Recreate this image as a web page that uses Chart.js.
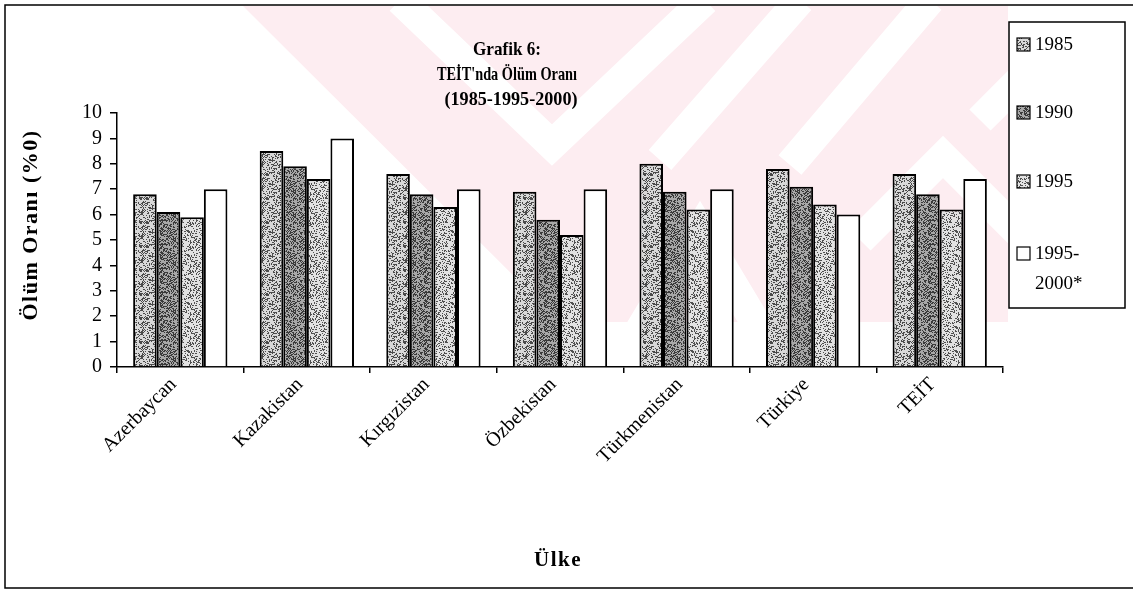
<!DOCTYPE html>
<html>
<head>
<meta charset="utf-8">
<script src="https://cdn.jsdelivr.net/npm/chart.js@4.4.1/dist/chart.umd.min.js"></script>
<style>
  html, body { margin: 0; padding: 0; background: #fff; }
  canvas { display: block; }
</style>
</head>
<body>
<canvas id="chartOlum" width="1133" height="593"></canvas>
<script>
const categories = [
  "Azerbaycan",
  "Kazakistan",
  "Kırgızistan",
  "Özbekistan",
  "Türkmenistan",
  "Türkiye",
  "TEİT",
];
const seriesNames = ["1985", "1990", "1995", "1995-2000*"];
const values1985 = [6.8, 8.5, 7.6, 6.9, 8.0, 7.8, 7.6];
const values1990 = [6.1, 7.9, 6.8, 5.8, 6.9, 7.1, 6.8];
const values1995 = [5.9, 7.4, 6.3, 5.2, 6.2, 6.4, 6.2];
const values1995to2000 = [7.0, 9.0, 7.0, 7.0, 7.0, 6.0, 7.4];
const yTickValues = [0, 1, 2, 3, 4, 5, 6, 7, 8, 9, 10];

const serif = "'Liberation Serif', 'Times New Roman', serif";

// stippled fills like the scanned print (fixed sequence, not data)
function stipple(light, dark, density, seed) {
  const c = document.createElement("canvas");
  c.width = 24;
  c.height = 24;
  const g = c.getContext("2d");
  g.fillStyle = light;
  g.fillRect(0, 0, 24, 24);
  g.fillStyle = dark;
  let s = seed;
  for (let y = 0; y < 24; y++) {
    for (let x = 0; x < 24; x++) {
      s = (s * 1103515245 + 12345) & 0x7fffffff;
      if ((s % 1000) / 1000 < density) g.fillRect(x, y, 1, 1);
    }
  }
  return g.createPattern(c, "repeat");
}

const ctx = document.getElementById("chartOlum").getContext("2d");
const fills = [
  stipple("#d8d8d8", "#4a4a4a", 0.35, 11),
  stipple("#a8a8a8", "#3a3a3a", 0.42, 29),
  stipple("#e2e2e2", "#505050", 0.3, 47),
  "#ffffff",
];
const seriesValues = [values1985, values1990, values1995, values1995to2000];

const backdrop = {
  id: "backdrop",
  beforeDraw(chart) {
    const c = chart.ctx;
    c.save();
    c.fillStyle = "#fff";
    c.fillRect(0, 0, chart.width, chart.height);
    // faint watermark
    c.beginPath();
    c.moveTo(243, 6);
    c.lineTo(1008, 6);
    c.lineTo(1008, 322);
    c.lineTo(560, 322);
    c.closePath();
    c.clip();
    c.fillStyle = "#fdedf1";
    c.fillRect(0, 0, chart.width, chart.height);
    c.strokeStyle = "#fff";
    c.lineWidth = 30;
    c.lineJoin = "miter";
    c.beginPath();
    c.moveTo(400, 0);
    c.lineTo(552, 145);
    c.lineTo(705, 0);
    c.moveTo(800, 0);
    c.lineTo(660, 160);
    c.moveTo(930, 0);
    c.lineTo(790, 165);
    c.moveTo(1040, 60);
    c.lineTo(980, 120);
    c.moveTo(860, 240);
    c.lineTo(943, 157);
    c.lineTo(1026, 240);
    c.moveTo(640, 330);
    c.lineTo(700, 230);
    c.lineTo(760, 330);
    c.stroke();
    c.restore();

    // outer frame
    c.save();
    c.strokeStyle = "#000";
    c.lineWidth = 1.5;
    c.beginPath();
    c.moveTo(1133, 5);
    c.lineTo(5, 5);
    c.lineTo(5, 588);
    c.lineTo(1133, 588);
    c.stroke();
    c.restore();
  },
};

const labelsAndLegend = {
  id: "labelsAndLegend",
  afterDraw(chart) {
    const c = chart.ctx;
    c.save();
    c.fillStyle = "#000";
    c.textAlign = "center";
    c.textBaseline = "middle";

    c.font = "bold 19px " + serif;
    c.fillText("Grafik 6:", 507, 50, 68);
    c.fillText("TEİT'nda Ölüm Oranı", 507, 75, 140);
    c.fillText("(1985-1995-2000)", 511, 100, 133);

    c.font = "bold 21px " + serif;
    c.letterSpacing = "1.5px";
    c.fillText("Ülke", 558, 561);

    c.translate(31, 225);
    c.rotate(-Math.PI / 2);
    c.font = "bold 22px " + serif;
    c.letterSpacing = "1.5px";
    c.fillText("Ölüm Oranı (%0)", 0, 0);
    c.restore();

    // legend box
    c.save();
    c.strokeStyle = "#000";
    c.lineWidth = 1.5;
    c.strokeRect(1009, 22, 116, 286);
    c.font = "19px " + serif;
    c.textAlign = "left";
    c.textBaseline = "middle";
    const rows = [45, 113, 182, 254];
    chart.data.datasets.forEach((ds, i) => {
      const y = rows[i];
      c.fillStyle = ds.backgroundColor;
      c.fillRect(1017, y - 7, 13, 13);
      c.strokeStyle = "#000";
      c.lineWidth = 1.2;
      c.strokeRect(1017, y - 7, 13, 13);
      c.fillStyle = "#000";
      if (i === 3) {
        c.fillText("1995-", 1035, y);
        c.fillText("2000*", 1035, y + 30);
      } else {
        c.fillText(ds.label, 1035, y);
      }
    });
    c.restore();
  },
};

const configOlum = {
  type: "bar",
  data: {
    labels: categories,
    datasets: seriesNames.map((name, i) => ({
      label: name,
      data: seriesValues[i],
      backgroundColor: fills[i],
      borderColor: "#000",
      borderWidth: 2,
      categoryPercentage: 0.745,
      barPercentage: 1.0,
    })),
  },
  options: {
    responsive: false,
    animation: false,
    devicePixelRatio: 1,
    layout: { padding: { top: 113, right: 130, left: 0, bottom: 0 } },
    plugins: {
      legend: { display: false },
      title: { display: false },
      tooltip: { enabled: false },
    },
    scales: {
      x: {
        afterFit(scale) {
          scale.height = 226;
        },
        grid: {
          offset: true,
          drawOnChartArea: false,
          drawTicks: true,
          tickLength: 6,
          color: "#000",
          lineWidth: 1.5,
        },
        border: { color: "#000", width: 1.5 },
        ticks: {
          color: "#000",
          font: { family: serif, size: 20 },
          minRotation: 45,
          maxRotation: 45,
          padding: 0,
          labelOffset: -7,
        },
      },
      y: {
        min: 0,
        max: 10,
        afterFit(scale) {
          scale.width = 117;
        },
        afterBuildTicks(scale) {
          scale.ticks = yTickValues.map((v) => ({ value: v }));
        },
        grid: {
          drawOnChartArea: false,
          drawTicks: true,
          tickLength: 7,
          color: "#000",
          lineWidth: 1.5,
        },
        border: { color: "#000", width: 1.5 },
        ticks: {
          color: "#000",
          font: { family: serif, size: 20 },
          padding: 8,
          autoSkip: false,
        },
      },
    },
  },
  plugins: [backdrop, labelsAndLegend],
};

let chartOlum = new Chart(ctx, configOlum);
</script>
</body>
</html>
